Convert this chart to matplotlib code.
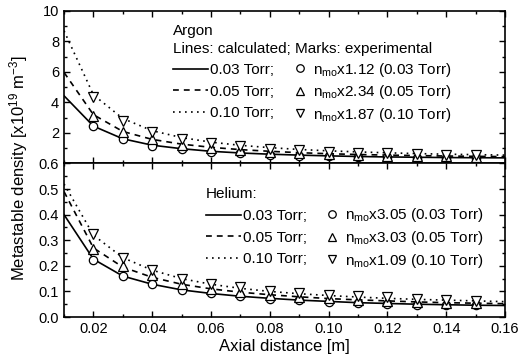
import numpy as np
import matplotlib
matplotlib.use("Agg")
import matplotlib.pyplot as plt
from matplotlib.ticker import FixedLocator, MultipleLocator, FormatStrFormatter
from matplotlib.legend_handler import HandlerLine2D

plt.rcParams["font.family"] = ["Liberation Sans", "DejaVu Sans"]
plt.rcParams["mathtext.fontset"] = "custom"
plt.rcParams["mathtext.rm"] = "Liberation Sans"
plt.rcParams["mathtext.it"] = "Liberation Sans:italic"

# =========================================================
# DATA
# =========================================================
x_calc = [0.01, 0.02, 0.03, 0.04, 0.05, 0.06, 0.07, 0.08,
          0.09, 0.10, 0.11, 0.12, 0.13, 0.14, 0.15, 0.16]
x_exp = [0.02, 0.03, 0.04, 0.05, 0.06, 0.07, 0.08,
         0.09, 0.10, 0.11, 0.12, 0.13, 0.14, 0.15]

# Argon (x10^19 m^-3)
ar_calc_003 = [4.44, 2.45, 1.62, 1.20, 0.97, 0.80, 0.69, 0.61, 0.55, 0.50, 0.46, 0.43, 0.41, 0.39, 0.38, 0.37]
ar_calc_005 = [5.97, 3.20, 2.10, 1.58, 1.27, 1.06, 0.91, 0.80, 0.71, 0.64, 0.59, 0.55, 0.52, 0.49, 0.47, 0.45]
ar_calc_010 = [8.70, 4.50, 2.95, 2.15, 1.70, 1.40, 1.19, 1.04, 0.92, 0.83, 0.76, 0.70, 0.65, 0.61, 0.58, 0.55]
ar_exp_003 = [2.48, 1.63, 1.18, 0.96, 0.78, 0.66, 0.58, 0.52, 0.48, 0.44, 0.41, 0.39, 0.37, 0.36]
ar_exp_005 = [3.14, 2.05, 1.58, 1.22, 1.02, 0.88, 0.76, 0.68, 0.62, 0.56, 0.52, 0.49, 0.46, 0.44]
ar_exp_010 = [4.36, 2.81, 2.05, 1.62, 1.35, 1.15, 0.98, 0.87, 0.78, 0.70, 0.66, 0.62, 0.58, 0.54]
ar_factors = ["1.12", "2.34", "1.87"]

# Helium
he_calc_003 = [0.40, 0.226, 0.160, 0.128, 0.106, 0.092, 0.081, 0.073, 0.066, 0.061, 0.056, 0.053, 0.050, 0.048, 0.046, 0.045]
he_calc_005 = [0.49, 0.270, 0.195, 0.155, 0.128, 0.110, 0.097, 0.087, 0.079, 0.072, 0.067, 0.063, 0.059, 0.056, 0.054, 0.052]
he_calc_010 = [0.52, 0.320, 0.232, 0.183, 0.150, 0.128, 0.112, 0.100, 0.091, 0.084, 0.078, 0.073, 0.069, 0.066, 0.063, 0.060]
he_exp_003 = [0.224, 0.160, 0.128, 0.106, 0.092, 0.081, 0.072, 0.065, 0.060, 0.055, 0.051, 0.048, 0.046, 0.045]
he_exp_005 = [0.267, 0.198, 0.163, 0.128, 0.110, 0.098, 0.087, 0.079, 0.073, 0.067, 0.063, 0.059, 0.055, 0.053]
he_exp_010 = [0.323, 0.232, 0.183, 0.150, 0.130, 0.117, 0.102, 0.092, 0.086, 0.082, 0.078, 0.070, 0.066, 0.062]
he_factors = ["3.05", "3.03", "1.09"]

pressures = ["0.03", "0.05", "0.10"]

# =========================================================
# STYLE
# =========================================================
line_styles = ["-", (0, (3.5, 3)), (0, (1, 2.6))]
markers = ["o", "^", "v"]
marker_sizes = [6, 7, 7]
FS = 10.5
LEG_FS = 11

fig = plt.figure(figsize=(5.18, 3.58), dpi=100)
ax_top = fig.add_axes([0.1236, 0.5433, 0.8514, 0.4260])
ax_bot = fig.add_axes([0.1236, 0.1145, 0.8514, 0.4288])


def draw_panel(ax, calc, exp, factors):
    lines, marks = [], []
    for k in range(3):
        l, = ax.plot(x_calc, calc[k], color="black", lw=1.2, ls=line_styles[k],
                     label=f"{pressures[k]} Torr;", zorder=2)
        lines.append(l)
    for k in range(3):
        m, = ax.plot(x_exp, exp[k], ls="none", marker=markers[k], ms=marker_sizes[k],
                     mfc="white", mec="black", mew=0.9, zorder=3,
                     label=r"n$_{\mathrm{mo}}$" + f"x{factors[k]} ({pressures[k]} Torr)")
        marks.append(m)
    return lines, marks


ar_lines, ar_marks = draw_panel(ax_top, [ar_calc_003, ar_calc_005, ar_calc_010],
                                [ar_exp_003, ar_exp_005, ar_exp_010], ar_factors)
he_lines, he_marks = draw_panel(ax_bot, [he_calc_003, he_calc_005, he_calc_010],
                                [he_exp_003, he_exp_005, he_exp_010], he_factors)

for ax in (ax_top, ax_bot):
    ax.set_xlim(0.01, 0.16)
    ax.xaxis.set_major_locator(MultipleLocator(0.02))
    ax.xaxis.set_minor_locator(MultipleLocator(0.01))
    ax.tick_params(which="both", direction="in", top=True, right=True,
                   labelsize=FS, width=1.0)
    ax.tick_params(which="major", length=4)
    ax.tick_params(which="minor", length=2.5)
    for sp in ax.spines.values():
        sp.set_linewidth(1.2)

ax_top.set_ylim(0, 10)
ax_top.yaxis.set_major_locator(FixedLocator([2, 4, 6, 8, 10]))
ax_top.yaxis.set_minor_locator(FixedLocator([1, 3, 5, 7, 9]))
ax_top.tick_params(labelbottom=False)

ax_bot.set_ylim(0, 0.6)
ax_bot.yaxis.set_major_locator(MultipleLocator(0.1))
ax_bot.yaxis.set_minor_locator(MultipleLocator(0.05))
ax_bot.yaxis.set_major_formatter(FormatStrFormatter("%.1f"))
ax_bot.xaxis.set_major_formatter(FormatStrFormatter("%.2f"))
ax_bot.set_xlabel("Axial distance [m]", fontsize=12, labelpad=2)

fig.text(0.035, 0.53, r"Metastable density [x10$^{19}$ m$^{-3}$]",
         rotation=90, ha="center", va="center", fontsize=12)

# =========================================================
# LEGENDS: lines (with title) and marks as two aligned blocks
# =========================================================
leg_kw = dict(loc="upper left", frameon=False, fontsize=LEG_FS,
              title_fontsize=LEG_FS, alignment="left", borderpad=0,
              borderaxespad=0, handlelength=2.3, handletextpad=0.1,
              markerscale=0.9)


def add_legends(ax, lines, marks, title, x_lines, x_marks, y_top):
    n_title = title.count("\n") + 1
    leg1 = ax.legend(lines, [h.get_label() for h in lines], title=title,
                     bbox_to_anchor=(x_lines, y_top), labelspacing=0.5, **leg_kw)
    leg1.get_title().set_linespacing(1.3)
    ax.add_artist(leg1)
    blank = "\n".join([" "] * n_title)
    leg2 = ax.legend(marks, [h.get_label() for h in marks], title=blank,
                     bbox_to_anchor=(x_marks, y_top - 0.003), labelspacing=0.3,
                     handler_map={m: HandlerLine2D(numpoints=1, xpad=0.77) for m in marks},
                     **leg_kw)
    leg2.get_title().set_linespacing(1.3)


add_legends(ax_top, ar_lines, ar_marks, "Argon\nLines: calculated; Marks: experimental",
            0.247, 0.482, 0.913)
add_legends(ax_bot, he_lines, he_marks, "Helium:", 0.322, 0.554, 0.845)

fig.savefig("out.png", dpi=100)
